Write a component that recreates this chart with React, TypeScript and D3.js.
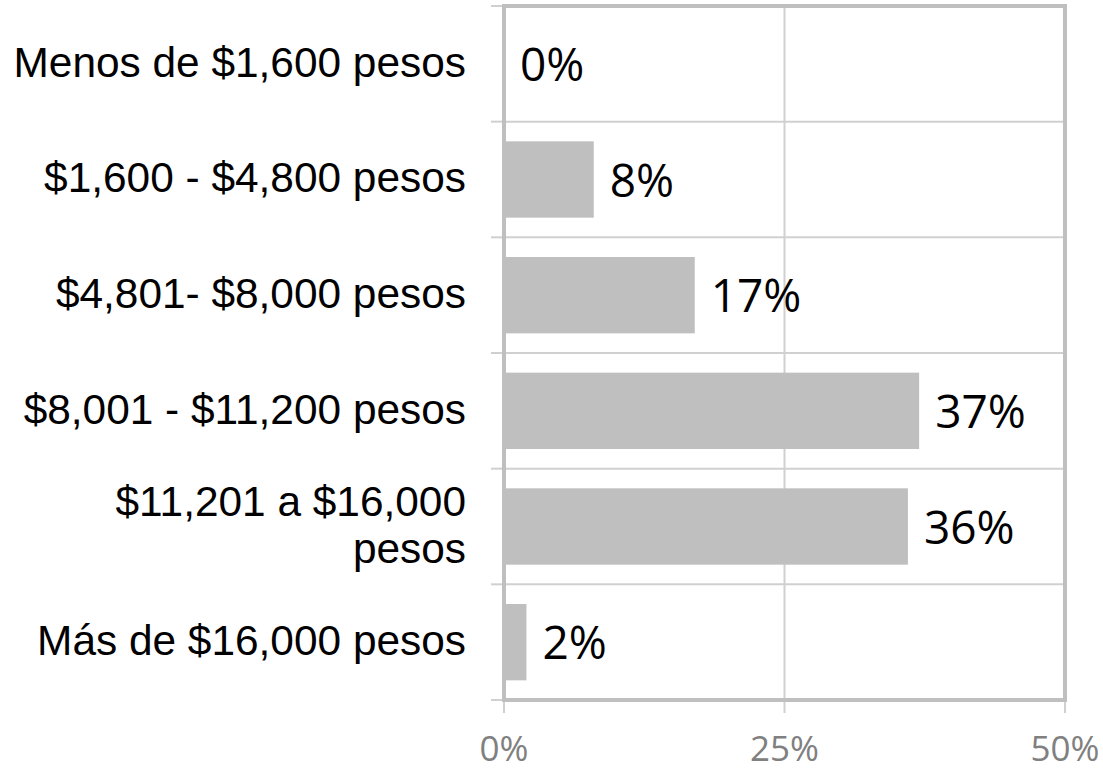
import React from 'react';
import * as d3 from 'd3';

const categories = [
  'Menos de $1,600 pesos',
  '$1,600 - $4,800 pesos',
  '$4,801- $8,000 pesos',
  '$8,001 - $11,200 pesos',
  '$11,201 a $16,000\npesos',
  'Más de $16,000 pesos',
];
const values = [0, 8, 17, 37, 36, 2];
const xTicks = [0, 25, 50];

const W = 1103;
const H = 770;

const App: React.FC = () => {
  const left = 504;
  const right = 1065;
  const top = 6;
  const bottom = 700;

  const x = d3.scaleLinear().domain([0, 50]).range([left, right]);
  const y = d3.scaleBand<string>()
    .domain(categories)
    .range([top, bottom])
    .paddingInner(0.34)
    .paddingOuter(0.17);

  const step = y.step();
  const boundaries = d3.range(categories.length + 1).map(i => top + i * step);

  const border = '#bfbfbf';
  const grid = '#d0d0d0';

  return (
    <svg width={W} height={H} style={{ position: 'absolute', left: 0, top: 0, background: '#fff' }}>
      {/* gridlines */}
      {boundaries.slice(1, -1).map((b, i) => (
        <line key={'h' + i} x1={left} x2={right} y1={b} y2={b} stroke={grid} strokeWidth={2} />
      ))}
      {xTicks.slice(1, -1).map(t => (
        <line key={'v' + t} x1={x(t)} x2={x(t)} y1={top} y2={bottom} stroke={grid} strokeWidth={2} />
      ))}

      {/* ticks */}
      {boundaries.map((b, i) => (
        <line key={'lt' + i} x1={491} x2={left} y1={b} y2={b} stroke={grid} strokeWidth={2} />
      ))}
      {xTicks.map(t => (
        <line key={'bt' + t} x1={x(t)} x2={x(t)} y1={bottom} y2={bottom + 13} stroke={grid} strokeWidth={2} />
      ))}

      {/* bars */}
      {categories.map((c, i) => (
        <rect key={c} x={x(0)} y={y(c)!} width={x(values[i]) - x(0)} height={y.bandwidth()} fill="#bfbfbf" />
      ))}

      {/* plot frame */}
      <rect x={left} y={top} width={right - left} height={bottom - top} fill="none" stroke={border} strokeWidth={4} />

      {/* category labels */}
      {categories.map(c => {
        const lines = c.split('\n');
        const cy = y(c)! + y.bandwidth() / 2;
        const lh = 47;
        const y0 = cy - ((lines.length - 1) * lh) / 2;
        return (
          <text key={'l' + c} x={466} textAnchor="end" fontFamily="'Liberation Sans', Arial, sans-serif" fontSize={42.4} fill="#000">
            {lines.map((ln, j) => (
              <tspan key={j} x={466} y={y0 + j * lh} dy="0.3em">{ln}</tspan>
            ))}
          </text>
        );
      })}

      {/* value labels */}
      {categories.map((c, i) => (
        <text key={'v' + c} x={x(values[i]) + 16} y={y(c)! + y.bandwidth() / 2} dy="0.37em"
          fontFamily="'Open Sans', sans-serif" fontSize={46} fill="#000">
          {values[i] + '%'}
        </text>
      ))}

      {/* x tick labels */}
      {xTicks.map(t => (
        <text key={'xl' + t} x={x(t)} y={761} textAnchor="middle"
          fontFamily="'Open Sans', sans-serif" fontSize={35} fill="#808080">
          {t + '%'}
        </text>
      ))}
    </svg>
  );
};

export default App;
